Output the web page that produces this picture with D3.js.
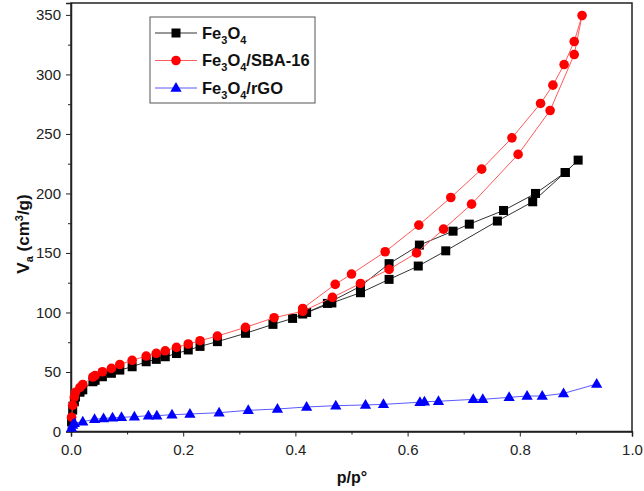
<!DOCTYPE html>
<html>
<head>
<meta charset="utf-8">
<title>Isotherms</title>
<style>
  body { margin: 0; background: #fff; }
  svg { display: block; font-family: "Liberation Sans", Arial, sans-serif; }
  .tick text { font-size: 15px; fill: #222; }
  .tick line, .domain { stroke: #222; }
</style>
</head>
<body>
<div id="chart"></div>
<script src="https://d3js.org/d3.v7.min.js"></script>
<script>
// Fe3O4 (adsorption then desorption)
const fe3o4P = [0.001,0.003,0.006,0.008,0.016,0.021,0.039,0.043,0.056,0.072,0.087,0.109,0.134,0.152,0.168,0.188,0.209,0.23,0.261,0.311,0.36,0.395,0.413,0.465,0.516,0.567,0.619,0.668,0.76,0.823,0.881,0.904,
                0.881,0.828,0.771,0.71,0.681,0.621,0.567,0.516,0.457,0.42];
const fe3o4V = [8,18,25,29,33,35,41.8,43,46,48.9,51.6,54.4,58.6,60.6,62.8,65.5,68.5,71.5,75.5,82.5,90,95,98.7,108,116.6,127.8,139,151.8,176.8,193,217.6,228,
                217.6,200,185.7,174.2,168.3,156.6,141,122,107.6,100];

// Fe3O4/SBA-16
const sbaP = [0.001,0.003,0.006,0.008,0.016,0.021,0.039,0.043,0.056,0.072,0.087,0.109,0.134,0.152,0.168,0.188,0.209,0.23,0.261,0.311,0.362,0.413,0.466,0.516,0.567,0.616,0.664,0.714,0.797,0.854,0.897,0.911,
              0.897,0.879,0.859,0.837,0.786,0.732,0.677,0.62,0.56,0.5,0.471,0.413];
const sbaV = [12,22,29,33,37,39.5,45.8,47,50.2,53,56.3,59.8,63.4,65.7,67.8,70.7,73.5,76.3,80.2,87.5,95.6,101,112.7,124.4,136.2,150,170,191,232.8,269.7,316.7,349.5,
              327.6,308.3,291,275.6,246.7,220.4,196.6,173.4,151,132.3,123.6,103.4];

// Fe3O4/rGO
const rgoP = [0.001,0.003,0.006,0.021,0.042,0.058,0.074,0.09,0.113,0.138,0.153,0.18,0.212,0.264,0.316,0.368,0.42,0.472,0.525,0.557,0.622,0.63,0.655,0.717,0.734,0.781,0.813,0.84,0.878,0.937];
const rgoV = [3,5.5,7,8.2,10.2,11,11.6,11.9,12.4,13.3,13.3,14.1,14.7,15.8,17.8,18.9,20.6,21.7,22.3,22.8,24.6,25,25.4,27,27,28.7,29.8,29.8,32,39.9];

const xMajor = [0, 0.2, 0.4, 0.6, 0.8, 1.0];
const xMinor = [0.1, 0.3, 0.5, 0.7, 0.9];
const yMajor = [0, 50, 100, 150, 200, 250, 300, 350];
const yMinor = [25, 75, 125, 175, 225, 275, 325];

const W = 644, H = 491;
const svg = d3.select('#chart').append('svg').attr('width', W).attr('height', H);

const x = d3.scaleLinear().domain([0, 1]).range([71, 632]);
const y = d3.scaleLinear().domain([0, 360]).range([431.5, 3]);

// frame
svg.append('rect').attr('x', x(0)).attr('y', y(360))
  .attr('width', x(1) - x(0)).attr('height', y(0) - y(360))
  .attr('fill', 'none').attr('stroke', '#222').attr('stroke-width', 1.5);

// axes
svg.append('g').attr('transform', 'translate(0,' + y(0) + ')')
  .call(d3.axisBottom(x).tickValues(xMajor).tickSize(5).tickPadding(8).tickFormat(d3.format('.1f')))
  .call(g => g.select('.domain').attr('stroke-width', 1.5));
svg.append('g').attr('transform', 'translate(0,' + y(0) + ')')
  .call(d3.axisBottom(x).tickValues(xMinor).tickSize(3).tickFormat(''))
  .call(g => g.select('.domain').remove());
svg.append('g').attr('transform', 'translate(' + x(0) + ',0)')
  .call(d3.axisLeft(y).tickValues(yMajor).tickSize(5).tickPadding(5))
  .call(g => g.select('.domain').attr('stroke-width', 1.5));
svg.append('g').attr('transform', 'translate(' + x(0) + ',0)')
  .call(d3.axisLeft(y).tickValues(yMinor).tickSize(3).tickFormat(''))
  .call(g => g.select('.domain').remove());

// axis titles
const yt = svg.append('text').attr('transform', 'translate(29,' + 234 + ') rotate(-90)')
  .attr('text-anchor', 'middle').style('font-size', '17px').style('font-weight', 'bold').attr('fill', '#111');
yt.append('tspan').text('V');
yt.append('tspan').text('a').attr('dy', 4).style('font-size', '11px');
yt.append('tspan').text(' (cm').attr('dy', -4);
yt.append('tspan').text('3').attr('dy', -6).style('font-size', '11px');
yt.append('tspan').text('/g)').attr('dy', 6);

svg.append('text').attr('x', 352).attr('y', 483).attr('text-anchor', 'middle')
  .style('font-size', '16px').style('font-weight', 'bold').attr('fill', '#111')
  .text('p/p°');

const series = [
  { p: fe3o4P, v: fe3o4V, line: '#333', fill: '#000', shape: 'square', suffix: '' },
  { p: sbaP, v: sbaV, line: '#ff5a5a', fill: '#ff0000', shape: 'circle', suffix: '/SBA-16' },
  { p: rgoP, v: rgoV, line: '#5a5aff', fill: '#0000ff', shape: 'triangle', suffix: '/rGO' }
];

function marker(g, shape, fill, cx, cy) {
  if (shape === 'square') {
    g.append('rect').attr('x', cx - 4.5).attr('y', cy - 4.5).attr('width', 9).attr('height', 9).attr('fill', fill);
  } else if (shape === 'circle') {
    g.append('circle').attr('cx', cx).attr('cy', cy).attr('r', 4.8).attr('fill', fill);
  } else {
    g.append('path').attr('d', d3.symbol(d3.symbolTriangle, 55)()).attr('transform', 'translate(' + cx + ',' + (cy + 0.5) + ')').attr('fill', fill);
  }
}

const line = d3.line().x(d => x(d[0])).y(d => y(d[1]));

series.forEach(s => {
  const pts = s.p.map((p, i) => [p, s.v[i]]);
  const g = svg.append('g');
  g.append('path').attr('d', line(pts)).attr('fill', 'none').attr('stroke', s.line).attr('stroke-width', 1);
  pts.forEach(d => marker(g, s.shape, s.fill, x(d[0]), y(d[1])));
});

// legend
const lg = svg.append('g');
lg.append('rect').attr('x', 150).attr('y', 17).attr('width', 165).attr('height', 86)
  .attr('fill', '#fff').attr('stroke', '#555').attr('stroke-width', 1);
series.forEach((s, i) => {
  const ly = 33 + i * 27.5;
  lg.append('line').attr('x1', 155).attr('x2', 197).attr('y1', ly).attr('y2', ly)
    .attr('stroke', s.line).attr('stroke-width', 1);
  marker(lg, s.shape, s.fill, 176, ly);
  const t = lg.append('text').attr('x', 202).attr('y', ly + 5.5)
    .style('font-size', '16.5px').style('font-weight', 'bold').attr('fill', '#111');
  t.append('tspan').text('Fe');
  t.append('tspan').text('3').attr('dy', 5).style('font-size', '11px');
  t.append('tspan').text('O').attr('dy', -5);
  t.append('tspan').text('4').attr('dy', 5).style('font-size', '11px');
  if (s.suffix) t.append('tspan').text(s.suffix).attr('dy', -5);
});
</script>
</body>
</html>
